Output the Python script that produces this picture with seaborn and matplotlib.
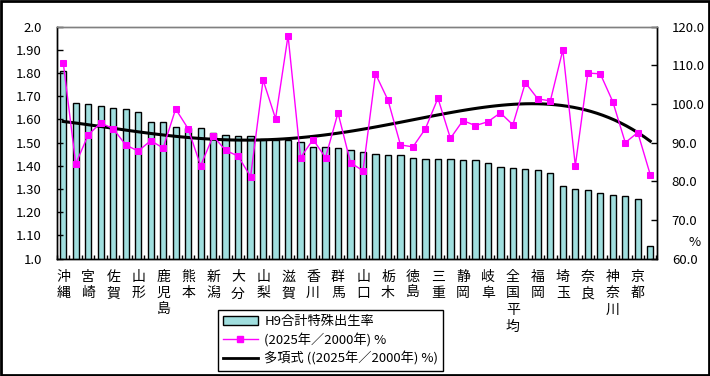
import numpy as np
import pandas as pd
import matplotlib
matplotlib.use("Agg")
import matplotlib.pyplot as plt
import seaborn as sns
from matplotlib.lines import Line2D
from matplotlib.patches import Patch
from matplotlib.ticker import FixedLocator

# prefectures (sorted by H9 TFR); only every other one gets a label on the chart
prefectures = ["沖縄", "福島", "宮崎", "島根", "佐賀", "鳥取", "山形", "長崎",
               "鹿児島", "福井", "熊本", "岩手", "新潟", "長野", "大分", "青森",
               "山梨", "富山", "滋賀", "石川", "香川", "茨城", "群馬", "愛媛",
               "山口", "秋田", "栃木", "和歌山", "徳島", "岡山", "三重", "広島",
               "静岡", "高知", "岐阜", "愛知", "全国平均", "宮城", "福岡", "兵庫",
               "埼玉", "千葉", "奈良", "大阪", "神奈川", "北海道", "京都", "東京"]

tfr_h9 = [1.81, 1.67, 1.665, 1.656, 1.65, 1.645, 1.63, 1.59,
          1.587, 1.567, 1.563, 1.561, 1.541, 1.531, 1.527, 1.527,
          1.517, 1.512, 1.512, 1.504, 1.481, 1.481, 1.476, 1.466,
          1.458, 1.45, 1.446, 1.446, 1.432, 1.428, 1.428, 1.428,
          1.424, 1.424, 1.41, 1.393, 1.39, 1.385, 1.381, 1.371,
          1.311, 1.298, 1.294, 1.281, 1.276, 1.268, 1.255, 1.052]

ratio_2025_2000 = [110.7, 84.5, 92.0, 95.1, 93.6, 89.4, 87.8, 90.5,
                   88.6, 98.7, 93.6, 84.0, 91.7, 88.0, 86.5, 81.2,
                   106.2, 96.2, 117.7, 86.1, 90.8, 86.1, 97.7, 84.8,
                   82.7, 107.8, 101.0, 89.4, 88.9, 93.6, 101.5, 91.1,
                   95.7, 94.4, 95.4, 97.7, 94.6, 105.5, 101.3, 100.8,
                   114.0, 84.0, 108.0, 107.8, 100.6, 90.0, 92.6, 81.7]

left_ticks = [1.0, 1.1, 1.2, 1.3, 1.4, 1.5, 1.6, 1.7, 1.8, 1.9, 2.0]
left_labels = ["1.0", "1.10", "1.20", "1.30", "1.40", "1.50", "1.60",
               "1.70", "1.80", "1.90", "2.0"]
right_ticks = [60, 70, 80, 90, 100, 110, 120]

bar_label = "H9合計特殊出生率"
line_label = "(2025年／2000年) %"
trend_label = "多項式 ((2025年／2000年) %)"

df = pd.DataFrame({"pref": prefectures, "tfr": tfr_h9,
                   "ratio": ratio_2025_2000, "pos": np.arange(len(prefectures))})

plt.rcParams['font.family'] = ['Noto Sans CJK JP', 'DejaVu Sans']
plt.rcParams['font.size'] = 9.5

fig = plt.figure(figsize=(7.1, 3.76), dpi=100)
ax = fig.add_axes([57 / 710, 1 - 258.5 / 376, 599.5 / 710, 231.8 / 376])

sns.barplot(data=df, x="pref", y="tfr", order=prefectures, color="#a0dede",
            saturation=1, width=0.5, edgecolor="black", linewidth=1, ax=ax)
ax.set_ylim(1.0, 2.0)
ax.set_xlim(-0.5, len(prefectures) - 0.5)
ax.set_xlabel("")
ax.set_ylabel("")
ax.yaxis.set_major_locator(FixedLocator(left_ticks))
ax.set_yticklabels(left_labels, fontsize=9.5)
ax.tick_params(axis="y", direction="in", length=4, width=1, pad=11)

# vertical stacked category names, every other one
xlabels = ["\n".join(p) if i % 2 == 0 else "" for i, p in enumerate(prefectures)]
ax.xaxis.set_major_locator(FixedLocator(list(range(len(prefectures)))))
ax.set_xticklabels(xlabels, fontsize=10, linespacing=1.25, va="top")
ax.tick_params(axis="x", which="major", length=0, pad=8)
ax.xaxis.set_minor_locator(FixedLocator(np.arange(-0.5, len(prefectures), 1.0)))
ax.tick_params(axis="x", which="minor", direction="in", length=3, width=1)

ax2 = ax.twinx()
# polynomial trend line (4th order) of the ratio series
sns.regplot(data=df, x="pos", y="ratio", order=4, ci=None, scatter=False,
            line_kws={"color": "black", "lw": 2.2, "zorder": 2}, ax=ax2)
sns.lineplot(data=df, x="pos", y="ratio", color="#ff00ff", lw=1, marker="s",
             markersize=4.6, markeredgecolor="#ff00ff", ax=ax2, zorder=3)
ax2.set_ylim(60, 120)
ax2.set_xlim(-0.5, len(prefectures) - 0.5)
ax2.set_xlabel("")
ax2.set_ylabel("")
ax2.yaxis.set_major_locator(FixedLocator(right_ticks))
ax2.set_yticklabels([f"{v:.1f}" for v in right_ticks], fontsize=9.5)
ax2.tick_params(axis="y", direction="in", length=4, width=1, pad=11)
ax2.text(1.064, 0.07, "%", transform=ax2.transAxes, fontsize=9.5,
         ha="center", va="center")

for a in (ax, ax2):
    for s in ("left", "right", "bottom"):
        a.spines[s].set_color("black")
        a.spines[s].set_linewidth(1)
    a.spines["top"].set_color("#808080")
    a.spines["top"].set_linewidth(1)

handles = [Patch(facecolor="#a0dede", edgecolor="black", linewidth=1),
           Line2D([], [], color="#ff00ff", lw=1, marker="s", markersize=4.6),
           Line2D([], [], color="black", lw=2)]
leg = fig.legend(handles, [bar_label, line_label, trend_label],
                 loc="lower left", bbox_to_anchor=(218 / 710, 5 / 376),
                 borderaxespad=0, frameon=True, fancybox=False, framealpha=1,
                 edgecolor="black", fontsize=9.5, handlelength=2.6,
                 handletextpad=0.5, labelspacing=0.35, borderpad=0.4)
leg.get_frame().set_linewidth(1)

fig.patches.append(plt.Rectangle((0.0015, 0.003), 0.997, 0.994, transform=fig.transFigure,
                                 fill=False, edgecolor="black", linewidth=2))

fig.savefig("out.png", dpi=100)
